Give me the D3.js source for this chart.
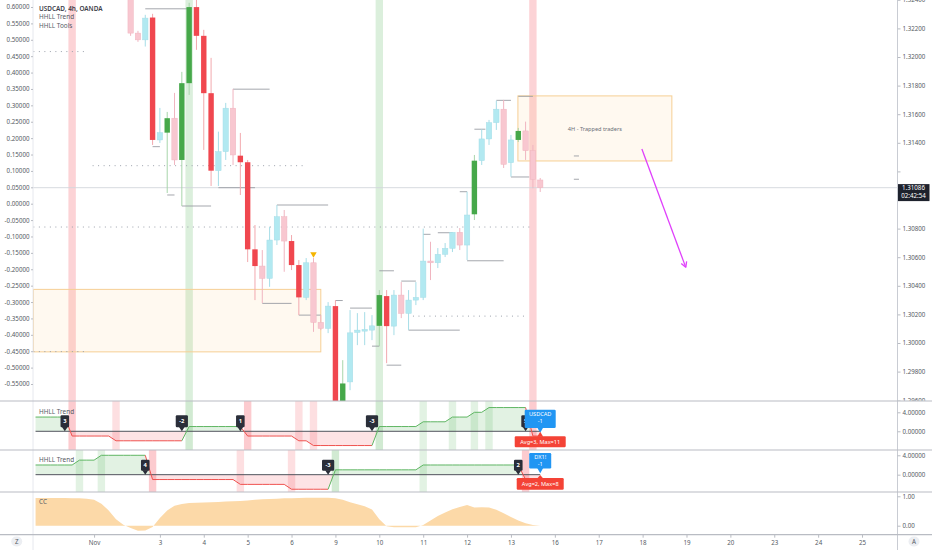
<!DOCTYPE html>
<html>
<head>
<meta charset="utf-8">
<script src="https://cdn.jsdelivr.net/npm/d3@7"></script>
<style>
  body { margin: 0; background: #fff; }
  svg { display: block; font-family: "Noto Sans", Roboto, sans-serif; }
</style>
</head>
<body>
<svg id="chart" width="932" height="550"></svg>
<script>
// 4h candles, index 0 = first candle visible at the top left
const opens  = [1.3247,1.32167,1.3212,1.32276,1.3142,1.31471,1.31572,1.3128,1.31817,1.32349,1.32148,1.31747,1.31205,1.31338,1.31642,1.3131,1.31264,1.30655,1.30538,1.30452,1.3072,1.30883,1.30713,1.30545,1.30319,1.30561,1.30144,1.30102,1.30258,1.29425,1.29728,1.30074,1.30083,1.3009,1.3012,1.30328,1.30118,1.30335,1.30207,1.303,1.30319,1.30573,1.30561,1.3062,1.30662,1.30774,1.30685,1.309,1.31275,1.31427,1.31541,1.31635,1.31261,1.3142,1.31483,1.31345,1.3114];
const highs  = [1.32505,1.32183,1.32295,1.32302,1.31644,1.31616,1.31749,1.31896,1.32379,1.324,1.3219,1.31994,1.31478,1.31679,1.31777,1.31469,1.3128,1.30825,1.3065,1.30813,1.30965,1.3093,1.30755,1.3058,1.30594,1.30594,1.30195,1.30286,1.303,1.2988,1.3023,1.30209,1.30216,1.30195,1.3037,1.3037,1.3037,1.30426,1.3037,1.30426,1.308,1.30708,1.30664,1.30699,1.30776,1.30804,1.31058,1.31315,1.31495,1.3156,1.31695,1.317,1.31455,1.31504,1.31548,1.31385,1.31154];
const lows   = [1.32148,1.32106,1.32073,1.31385,1.31399,1.31049,1.31245,1.30958,1.31735,1.3205,1.3135,1.31098,1.31098,1.3128,1.31245,1.31035,1.30566,1.303,1.30279,1.30393,1.30685,1.30498,1.3051,1.30195,1.303,1.30078,1.3009,1.30069,1.2932,1.2932,1.2967,1.29985,1.29985,1.3002,1.29978,1.29859,1.30055,1.30174,1.3009,1.30265,1.303,1.3044,1.30524,1.30601,1.30636,1.3065,1.3058,1.3086,1.31245,1.31385,1.3149,1.31224,1.31163,1.31406,1.3128,1.31082,1.31056];
const closes = [1.32167,1.3212,1.32272,1.3142,1.31471,1.31572,1.3128,1.31817,1.32349,1.32148,1.31747,1.31205,1.31338,1.31642,1.31315,1.31264,1.30655,1.30538,1.30452,1.3072,1.30883,1.30713,1.30545,1.30319,1.30561,1.30144,1.30102,1.30258,1.29348,1.29717,1.30071,1.3009,1.30095,1.3012,1.30335,1.30118,1.30335,1.30207,1.303,1.30319,1.30573,1.30561,1.3062,1.30662,1.30774,1.30685,1.30895,1.31275,1.31427,1.31541,1.31635,1.3125,1.3142,1.31483,1.31345,1.31145,1.31086];
// candles painted solid (strong HHLL bars)
const strongIdx = [3,5,7,8,9,10,11,15,16,17,22,23,28,29,34,35,47,53];
const lastPrice = 1.31086;
const countdown = "02:42:54";

// main-chart trend flip bands
const mainBandIdx = [-8, 8, 34, 55];
const mainBandDir = [-1, 1, 1, -1];

// HHLL level segments: from index, to index, price
const hhllFrom  = [2,14,3,5,12,7,20,18,23,28,30,33,34,35,37,38,40,42,46,45,47,50,52,53,60.6,60.6];
const hhllTo    = [8,19,4,6,17,11,27,22,26,29,33,34,36,37,39,45,41,44,51,46,48.5,52,54.5,55,61.3,61.3];
const hhllPrice = [1.32337,1.31775,1.31373,1.31035,1.31086,1.30958,1.30965,1.30277,1.30195,1.30297,1.30244,1.29978,1.30505,1.29845,1.30433,1.3009,1.3076,1.30771,1.30575,1.31058,1.31495,1.31697,1.31161,1.31725,1.31308,1.31145];

// dotted levels
const dotFrom  = [-13.3, -5.2, -13.3, -13.3, 38.6];
const dotTo    = [-5.8, 24.1, 55, -5.8, 54.1];
const dotPrice = [1.32038, 1.3124, 1.30811, 1.2994, 1.30188];

// zones
const boxFrom   = [-13.3, 52.95];
const boxTo     = [26.0, 74.0];
const boxTop    = [1.30375, 1.31728];
const boxBottom = [1.29938, 1.31273];
const boxText   = ["", "4H - Trapped traders"];

const markIdx = [25];
const markPrice = [1.30622];
const arrowFrom = [69.9, 1.31357];
const arrowTo   = [75.9, 1.30529];

const priceTicks = [1.324,1.322,1.32,1.318,1.316,1.314,1.312,1.31,1.308,1.306,1.304,1.302,1.3,1.298,1.296];
const leftTicks = [0.6,0.55,0.5,0.45,0.4,0.35,0.3,0.25,0.2,0.15,0.1,0.05,0,-0.05,-0.1,-0.15,-0.2,-0.25,-0.3,-0.35,-0.4,-0.45,-0.5,-0.55];
const dayIdx = [-5,4,10,16,22,28,34,40,46,52,58,64,70,76,82,88,94,100];
const dayLabels = ["Nov","3","4","5","6","9","10","11","12","13","16","17","18","19","20","23","24","25"];

// indicator panes, indices -13 .. 56
const paneIdx = [-13,-12,-11,-10,-9,-8,-7,-6,-5,-4,-3,-2,-1,0,1,2,3,4,5,6,7,8,9,10,11,12,13,14,15,16,17,18,19,20,21,22,23,24,25,26,27,28,29,30,31,32,33,34,35,36,37,38,39,40,41,42,43,44,45,46,47,48,49,50,51,52,53,54,55,56];
const usdTrend = [3,3,3,3,3,-1,-1,-1,-1,-1,-1,-2,-2,-2,-2,-2,-2,-2,-2,-2,-2,1,1,1,1,1,1,1,1,-1,-1,-1,-1,-1,-1,-1,-2,-2,-3,-3,-3,-3,-3,-3,-3,-3,-3,1,1,1,1,1,1,2,2,2,2,3,3,3,4,4,5,5,5,5,5,5,-1,-1];
const dxyTrend = [2,2,2,2,2,2,3,3,3,4,4,4,4,4,4,4,-1,-1,-1,-1,-1,-1,-1,-1,-1,-1,-1,-1,-2,-2,-2,-2,-2,-2,-2,-3,-3,-3,-3,-3,-3,1,1,1,1,1,1,1,1,1,1,1,1,2,2,2,2,2,2,2,2,2,2,2,2,2,2,-1,-1,-1];
const ccValues = [0.94,0.94,0.94,0.94,0.94,0.93,0.93,0.92,0.88,0.75,0.52,0.22,0.03,-0.08,-0.17,-0.16,-0.04,0.26,0.52,0.68,0.74,0.77,0.78,0.79,0.8,0.81,0.82,0.83,0.84,0.86,0.88,0.9,0.91,0.92,0.93,0.93,0.94,0.95,0.95,0.95,0.95,0.93,0.88,0.8,0.73,0.66,0.55,0.22,-0.02,-0.05,-0.05,-0.05,-0.05,0.02,0.18,0.33,0.45,0.56,0.64,0.7,0.62,0.63,0.62,0.54,0.42,0.3,0.18,0.08,0.02,0];

const usdBandIdx = [-8,-2,8,16,23,25,34,40,44,47,49,55];
const usdBandDir = [-1,-1,1,-1,-1,-1,1,1,1,1,1,-1];
const dxyBandIdx = [-7,-4,3,15,22,28,40,54];
const dxyBandDir = [1,1,-1,-1,-1,1,1,-1];
const usdBadgeIdx = [-9,7,15,33,54];
const usdBadgeText = ["3","-2","1","-3","5"];
const dxyBadgeIdx = [2,27,53];
const dxyBadgeText = ["4","-3","2"];

// ---------------------------------------------------------------
const plotL = 33, plotR = 897.5;
const mainBot = 401, p2Bot = 450, p3Bot = 492, p4Bot = 534.7;
const UP = "#4caf50", DN = "#f23645";
const TXT = "#555a63";

const svg = d3.select("#chart");
svg.append("rect").attr("width", 932).attr("height", 550).attr("fill", "#fff");

const x = d3.scaleLinear().domain([-13.35, 104.85]).range([plotL, plotR]);
const yPrice = d3.scaleLinear().domain([1.296, 1.324]).range([400.2, -0.2]);
const yLeft = d3.scaleLinear().domain([-0.55, 0.6]).range([384, 7]);
const y2 = d3.scaleLinear().domain([-3.94, 6.38]).range([p2Bot, mainBot]);
const y3 = d3.scaleLinear().domain([-3.57, 5.09]).range([p3Bot, p2Bot]);
const y4 = d3.scaleLinear().domain([-0.306, 1.146]).range([p4Bot, p3Bot]);

const defs = svg.append("defs");
function clip(id, x0, y0, x1, y1) {
  defs.append("clipPath").attr("id", id).append("rect")
    .attr("x", x0).attr("y", y0).attr("width", x1 - x0).attr("height", y1 - y0);
  return `url(#${id})`;
}

// ---------- main pane ----------
const main = svg.append("g").attr("clip-path", clip("c-main", plotL, 0, plotR, mainBot));

main.selectAll("rect.band").data(mainBandIdx).enter().append("rect")
  .attr("x", d => x(d) - 3.7).attr("width", 7.4)
  .attr("y", 0).attr("height", mainBot)
  .attr("fill", (d, k) => mainBandDir[k] > 0 ? UP : DN)
  .attr("opacity", (d, k) => mainBandDir[k] > 0 ? 0.2 : 0.22);

boxFrom.forEach((f, k) => {
  main.append("rect")
    .attr("x", x(f)).attr("y", yPrice(boxTop[k]))
    .attr("width", x(boxTo[k]) - x(f)).attr("height", yPrice(boxBottom[k]) - yPrice(boxTop[k]))
    .attr("fill", "rgba(255,167,38,0.07)").attr("stroke", "#f6cf94").attr("stroke-width", 1);
  if (boxText[k]) {
    main.append("text")
      .attr("x", (x(f) + x(boxTo[k])) / 2)
      .attr("y", (yPrice(boxTop[k]) + yPrice(boxBottom[k])) / 2 + 2.5)
      .attr("text-anchor", "middle").attr("font-size", 5.6).attr("fill", "#6b6f78")
      .text(boxText[k]);
  }
});

main.selectAll("line.dot").data(dotPrice).enter().append("line")
  .attr("x1", (d, k) => x(dotFrom[k])).attr("x2", (d, k) => x(dotTo[k]))
  .attr("y1", d => yPrice(d)).attr("y2", d => yPrice(d))
  .attr("stroke", "#9ba1ab").attr("stroke-width", 1).attr("stroke-dasharray", "1 4.5");

// last price line
main.append("line")
  .attr("x1", plotL).attr("x2", plotR)
  .attr("y1", yPrice(lastPrice)).attr("y2", yPrice(lastPrice))
  .attr("stroke", "#d3d6dc").attr("stroke-width", 0.9);

main.selectAll("line.hhll").data(hhllPrice).enter().append("line")
  .attr("x1", (d, k) => x(hhllFrom[k])).attr("x2", (d, k) => x(hhllTo[k]))
  .attr("y1", d => yPrice(d)).attr("y2", d => yPrice(d))
  .attr("stroke", "#9a9da4").attr("stroke-width", 0.9);

const candles = opens.map((o, i) => ({
  i, o, h: highs[i], l: lows[i], c: closes[i], strong: strongIdx.includes(i)
}));
function bodyColor(d) {
  const up = d.c >= d.o;
  if (d.strong) return up ? "#46a84a" : "#f0474f";
  return up ? "#b2e9f1" : "#f8c7d0";
}
function wickColor(d) {
  const up = d.c >= d.o;
  if (d.strong) return up ? "#a8d5aa" : "#f2a9ae";
  return up ? "#a6dde7" : "#f0b5c0";
}
main.append("g").selectAll("line").data(candles).enter().append("line")
  .attr("x1", d => x(d.i)).attr("x2", d => x(d.i))
  .attr("y1", d => yPrice(d.h)).attr("y2", d => yPrice(d.l))
  .attr("stroke", wickColor).attr("stroke-width", 1);
main.append("g").selectAll("rect").data(candles).enter().append("rect")
  .attr("x", d => x(d.i) - 2.7).attr("width", 5.4)
  .attr("y", d => yPrice(Math.max(d.o, d.c)))
  .attr("height", d => Math.max(1, Math.abs(yPrice(d.o) - yPrice(d.c))))
  .attr("fill", bodyColor)
  .attr("stroke", d => d.strong ? "none" : wickColor(d)).attr("stroke-width", 0.5);

main.selectAll("path.mark").data(markIdx).enter().append("path")
  .attr("d", d3.symbol().type(d3.symbolTriangle).size(18))
  .attr("transform", (d, k) => `translate(${x(d)},${yPrice(markPrice[k])}) rotate(180)`)
  .attr("fill", "#f5b400");

// drawn arrow
{
  const ax1 = x(arrowFrom[0]), ay1 = yPrice(arrowFrom[1]);
  const ax2 = x(arrowTo[0]), ay2 = yPrice(arrowTo[1]);
  main.append("line").attr("x1", ax1).attr("y1", ay1).attr("x2", ax2).attr("y2", ay2)
    .attr("stroke", "#e040fb").attr("stroke-width", 1.3);
  const ang = Math.atan2(ay2 - ay1, ax2 - ax1);
  for (const s of [-1, 1]) {
    const a = ang + Math.PI + s * 0.5;
    main.append("line").attr("x1", ax2).attr("y1", ay2)
      .attr("x2", ax2 + 6 * Math.cos(a)).attr("y2", ay2 + 6 * Math.sin(a))
      .attr("stroke", "#e040fb").attr("stroke-width", 1.3);
  }
}

// legend
const legend = svg.append("g").attr("font-size", 6.4).attr("fill", "#3c4049");
legend.append("text").attr("x", 39).attr("y", 10.5).attr("font-weight", 600).text("USDCAD, 4h, OANDA");
legend.append("text").attr("x", 39).attr("y", 19.3).attr("fill", TXT).text("HHLL Trend");
legend.append("text").attr("x", 39).attr("y", 27.8).attr("fill", TXT).text("HHLL Tools");

// ---------- trend panes ----------
function darkBadge(g, cx, tipY, text, h) {
  const w = 5 + text.length * 3.6;
  const bot = tipY - 4;
  g.append("rect").attr("x", cx - w / 2).attr("y", bot - h).attr("width", w).attr("height", h)
    .attr("rx", 1.2).attr("fill", "#2a2e39");
  g.append("path").attr("d", `M${cx - 3},${bot - 0.5}L${cx + 3},${bot - 0.5}L${cx},${tipY}Z`).attr("fill", "#2a2e39");
  g.append("text").attr("x", cx).attr("y", bot - h / 2 + 2.1).attr("text-anchor", "middle")
    .attr("font-size", 5.8).attr("font-weight", 700).attr("fill", "#fff").text(text);
}

function labelBox(g, cx, y0, w, h, tipY, fill, lines, firstBase) {
  g.append("rect").attr("x", cx - w / 2).attr("y", y0).attr("width", w).attr("height", h)
    .attr("rx", 1.2).attr("fill", fill);
  const edge = tipY > y0 ? y0 + h - 0.5 : y0 + 0.5;
  g.append("path").attr("d", `M${cx - 3},${edge}L${cx + 3},${edge}L${cx},${tipY}Z`).attr("fill", fill);
  lines.forEach((t, k) => {
    g.append("text").attr("x", cx).attr("y", y0 + firstBase + k * 6.3).attr("text-anchor", "middle")
      .attr("font-size", 5.6).attr("fill", "#fff").text(t);
  });
}

function trendPane(id, vals, yS, top, bot, bandIdx, bandDir, badgeIdx, badgeText, badgeH) {
  const g = svg.append("g").attr("clip-path", clip(id, plotL, top, plotR, bot));
  const z = yS(0);
  bandIdx.forEach((b, k) => {
    const pos = paneIdx.indexOf(b);
    const flip = pos > 0 && Math.sign(vals[pos]) !== Math.sign(vals[pos - 1]);
    g.append("rect").attr("x", x(b) - 3.7).attr("width", 7.4).attr("y", top).attr("height", bot - top)
      .attr("fill", bandDir[k] > 0 ? UP : DN).attr("opacity", flip ? 0.26 : 0.16);
  });
  const pts = paneIdx.map((i, k) => [i, vals[k]]);
  const area = d3.area().x(d => x(d[0])).y0(z).y1(d => yS(d[1]));
  g.append("path").attr("d", area(pts)).attr("fill", UP).attr("opacity", 0.16)
    .attr("clip-path", clip(id + "-p", plotL, top, plotR, z));
  g.append("path").attr("d", area(pts)).attr("fill", DN).attr("opacity", 0.14)
    .attr("clip-path", clip(id + "-n", plotL, z, plotR, bot));
  g.append("line").attr("x1", x(paneIdx[0])).attr("x2", x(paneIdx[paneIdx.length - 1]))
    .attr("y1", z).attr("y2", z).attr("stroke", "#50535c").attr("stroke-width", 1);
  for (let k = 1; k < pts.length; k++) {
    g.append("line")
      .attr("x1", x(pts[k - 1][0])).attr("y1", yS(pts[k - 1][1]))
      .attr("x2", x(pts[k][0])).attr("y2", yS(pts[k][1]))
      .attr("stroke", pts[k][1] > 0 ? "#5fb663" : "#ef5350").attr("stroke-width", 1);
  }
  badgeIdx.forEach((b, k) => darkBadge(g, x(b), z, badgeText[k], badgeH));
  return g;
}

const g2 = trendPane("c-p2", usdTrend, y2, mainBot, p2Bot, usdBandIdx, usdBandDir, usdBadgeIdx, usdBadgeText, 12);
const g3 = trendPane("c-p3", dxyTrend, y3, p2Bot, p3Bot, dxyBandIdx, dxyBandDir, dxyBadgeIdx, dxyBadgeText, 11);

const lastIdx = paneIdx[paneIdx.length - 1];
labelBox(g2, x(lastIdx), y2(0) - 21.6, 31, 18.3, y2(0) + 1.5, "#2196f3", ["USDCAD", "-1"], 6.8);
labelBox(g2, x(lastIdx), y2(0) + 5, 51, 11, y2(0) + 0.5, "#f44336", ["Avg=3, Max=11"], 7.6);
labelBox(g3, x(lastIdx), y3(0) - 21.7, 22, 15.5, y3(0) - 1.5, "#2196f3", ["DX1!", "-1"], 6.3);
labelBox(g3, x(lastIdx), y3(0) + 3.3, 47, 11.7, y3(0) + 0.3, "#f44336", ["Avg=2, Max=8"], 8.0);

// ---------- CC pane ----------
const g4 = svg.append("g").attr("clip-path", clip("c-p4", plotL, p3Bot, plotR, p4Bot));
g4.append("path")
  .attr("d", d3.area().x(d => x(d[0])).y0(y4(0)).y1(d => y4(d[1]))(paneIdx.map((i, k) => [i, ccValues[k]])))
  .attr("fill", "#fcd9a8");

// pane titles
const titles = svg.append("g").attr("font-size", 6.4).attr("fill", TXT);
titles.append("text").attr("x", 39).attr("y", 413.5).text("HHLL Trend");
titles.append("text").attr("x", 39).attr("y", 462).text("HHLL Trend");
titles.append("text").attr("x", 39).attr("y", 504).text("CC");

// ---------- frames ----------
svg.append("line").attr("x1", plotL).attr("x2", plotL).attr("y1", 0).attr("y2", 550)
  .attr("stroke", "#e6e8ee").attr("stroke-width", 1);
svg.append("line").attr("x1", plotR).attr("x2", plotR).attr("y1", 0).attr("y2", 550)
  .attr("stroke", "#c9ccd3").attr("stroke-width", 1);
for (const yy of [mainBot, p2Bot, p3Bot, p4Bot]) {
  svg.append("line").attr("x1", 0).attr("x2", 932).attr("y1", yy).attr("y2", yy)
    .attr("stroke", "#b9bcc3").attr("stroke-width", 1.2);
}

// ---------- axes ----------
function styleAxis(g, size) {
  g.select(".domain").remove();
  g.selectAll("text").attr("font-size", size).attr("fill", TXT).attr("font-family", "Noto Sans, sans-serif");
  g.selectAll("line").attr("stroke", "#b9bcc3");
}

const rightMain = svg.append("g").attr("clip-path", clip("c-ra", plotR, 0, 932, mainBot - 0.5));
rightMain.append("g").attr("transform", `translate(${plotR},0)`)
  .call(d3.axisRight(yPrice).tickValues(priceTicks).tickFormat(d3.format(".5f")).tickSize(3).tickPadding(2))
  .call(g => styleAxis(g, 6.2))
  // the tick hidden under the last-price tag keeps its mark only
  .call(g => g.selectAll(".tick").filter(d => Math.abs(d - lastPrice) < 0.0012).select("text").remove());

svg.append("g").attr("transform", `translate(${plotL},0)`)
  .call(d3.axisLeft(yLeft).tickValues(leftTicks).tickFormat(v => v.toFixed(5)).tickSize(2).tickPadding(1.5))
  .call(g => styleAxis(g, 6.2));

svg.append("g").attr("transform", `translate(${plotR},0)`)
  .call(d3.axisRight(y2).tickValues([4, 0]).tickFormat(d3.format(".5f")).tickSize(3).tickPadding(2))
  .call(g => styleAxis(g, 6.2));
svg.append("g").attr("transform", `translate(${plotR},0)`)
  .call(d3.axisRight(y3).tickValues([4, 0]).tickFormat(d3.format(".5f")).tickSize(3).tickPadding(2))
  .call(g => styleAxis(g, 6.2));
svg.append("g").attr("transform", `translate(${plotR},0)`)
  .call(d3.axisRight(y4).tickValues([1, 0]).tickFormat(d3.format(".2f")).tickSize(3).tickPadding(2))
  .call(g => styleAxis(g, 6.2));

svg.append("g").attr("transform", `translate(0,${p4Bot})`)
  .call(d3.axisBottom(x).tickValues(dayIdx).tickFormat((d, k) => dayLabels[k]).tickSize(3).tickPadding(2.5))
  .call(g => styleAxis(g, 6.2));

// last price tag
{
  const py = yPrice(lastPrice);
  svg.append("rect").attr("x", plotR + 0.5).attr("y", py - 3.6).attr("width", 31.5).attr("height", 17)
    .attr("fill", "#1e222d");
  svg.append("text").attr("x", plotR + 16).attr("y", py + 2.3).attr("text-anchor", "middle")
    .attr("font-size", 6.2).attr("fill", "#fff").text(lastPrice.toFixed(5));
  svg.append("text").attr("x", plotR + 16).attr("y", py + 10.6).attr("text-anchor", "middle")
    .attr("font-size", 6.2).attr("fill", "#fff").text(countdown);
}

// corner buttons
for (const [bx, t] of [[16.7, "Z"], [914, "A"]]) {
  svg.append("rect").attr("x", bx - 5.5).attr("y", 536.5).attr("width", 11).attr("height", 10)
    .attr("rx", 5).attr("fill", "#eceef2");
  svg.append("text").attr("x", bx).attr("y", 543.8).attr("text-anchor", "middle")
    .attr("font-size", 6.2).attr("fill", TXT).text(t);
}
</script>
</body>
</html>
